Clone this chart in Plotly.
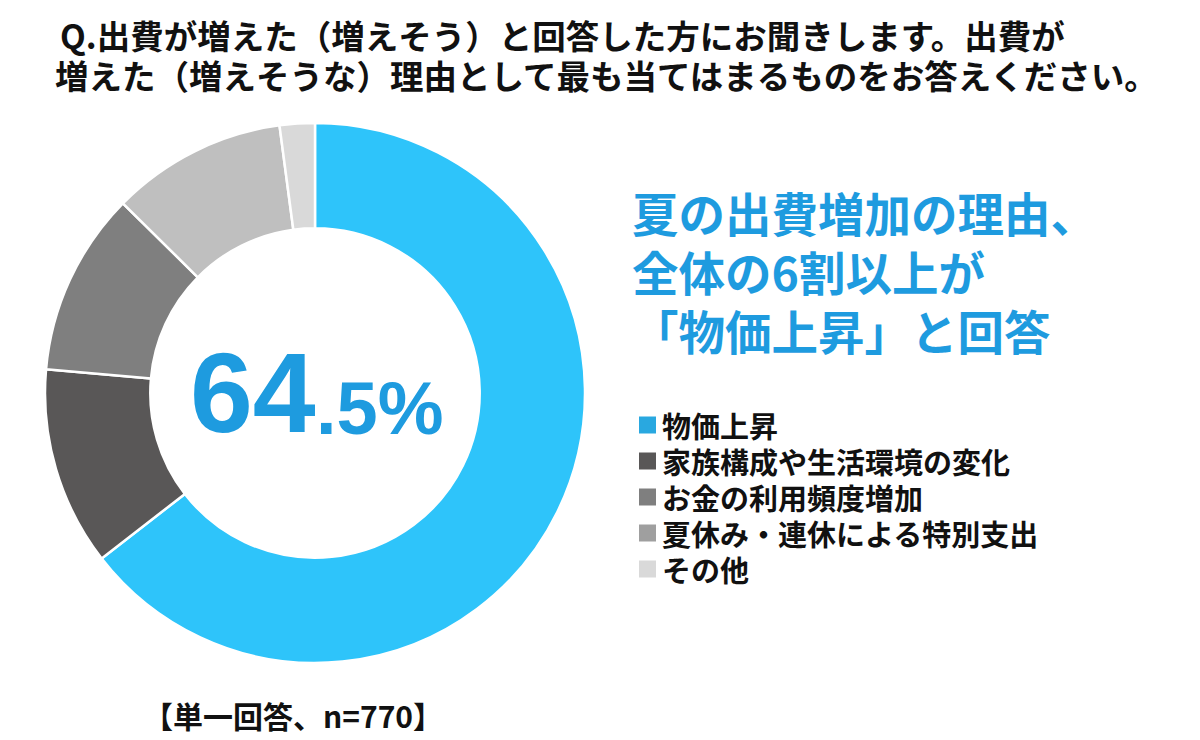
import plotly.graph_objects as go

labels = ["物価上昇", "家族構成や生活環境の変化", "お金の利用頻度増加", "夏休み・連休による特別支出", "その他"]
values = [64.5, 11.9, 11.0, 10.5, 2.1]
slice_colors = ["#2EC4FA", "#595757", "#7F7F7F", "#BFBFBF", "#D9D9D9"]
legend_colors = ["#29A8E0", "#595757", "#7F7F7F", "#9F9F9F", "#D9D9D9"]

title_lines = ["Q.出費が増えた（増えそう）と回答した方にお聞きします。出費が",
               "増えた（増えそうな）理由として最も当てはまるものをお答えください。"]
headline_lines = ["夏の出費増加の理由、", "全体の6割以上が", "「物価上昇」と回答"]
footer = "【単一回答、n=770】"

JP = "Noto Sans CJK JP"
BLUE_TXT = "#1E9BDF"
W, H = 1200, 740


def px(x):
    return x / W


def py(y):
    return 1 - y / H


fig = go.Figure()
fig.add_trace(go.Pie(
    labels=labels, values=values, hole=0.61, sort=False, direction="clockwise",
    rotation=0, marker=dict(colors=slice_colors, line=dict(color="white", width=2.5)),
    textinfo="none", hoverinfo="label+percent", showlegend=False,
    domain=dict(x=[px(45), px(585)], y=[py(663), py(123)]),
))

top = values[0]
whole = str(int(top))
frac = f"{top:.1f}"[len(whole):] + "%"
fig.add_annotation(x=px(317), y=py(393), xref="paper", yref="paper", showarrow=False,
                   xanchor="right", yanchor="middle", text=whole, borderpad=0,
                   font=dict(family="Liberation Sans", color=BLUE_TXT, size=113, weight="bold"))
fig.add_annotation(x=px(315), y=py(408), xref="paper", yref="paper", showarrow=False,
                   xanchor="left", yanchor="middle", text=frac, borderpad=0,
                   font=dict(family="Liberation Sans", color=BLUE_TXT, size=74, weight="bold"))

for i, line in enumerate(title_lines):
    fig.add_annotation(x=px([58, 53][i]), y=py(35 + 40 * i), xref="paper", yref="paper",
                       xanchor="left", yanchor="middle", showarrow=False, text=line,
                       font=dict(family=JP, size=33.5, color="#111111", weight="bold"))

for i, line in enumerate(headline_lines):
    fig.add_annotation(x=px(630), y=py(212 + 58.5 * i), xref="paper", yref="paper",
                       xanchor="left", yanchor="middle", showarrow=False, text=line,
                       font=dict(family=JP, size=46.5, color=BLUE_TXT, weight="bold"))

fig.add_annotation(x=px(293), y=py(715), xref="paper", yref="paper",
                   xanchor="center", yanchor="middle", showarrow=False, text=footer,
                   font=dict(family=JP, size=30, color="#111111", weight="bold"))

# legend
for i, (lab, col) in enumerate(zip(labels, legend_colors)):
    cy = 425 + 36 * i
    fig.add_shape(type="rect", xref="paper", yref="paper",
                  x0=px(639), x1=px(656), y0=py(cy - 8.5), y1=py(cy + 8.5),
                  fillcolor=col, line=dict(width=0))
    fig.add_annotation(x=px(660), y=py(cy), xref="paper", yref="paper",
                       xanchor="left", yanchor="middle", showarrow=False, text=lab,
                       font=dict(family=JP, size=29, color="#111111", weight="bold"))

fig.update_layout(
    width=W, height=H, margin=dict(l=0, r=0, t=0, b=0),
    paper_bgcolor="white", plot_bgcolor="white", showlegend=False,
)

fig.write_html("out.html", config={"displayModeBar": False},
               post_script="document.body.style.margin='0px';")
